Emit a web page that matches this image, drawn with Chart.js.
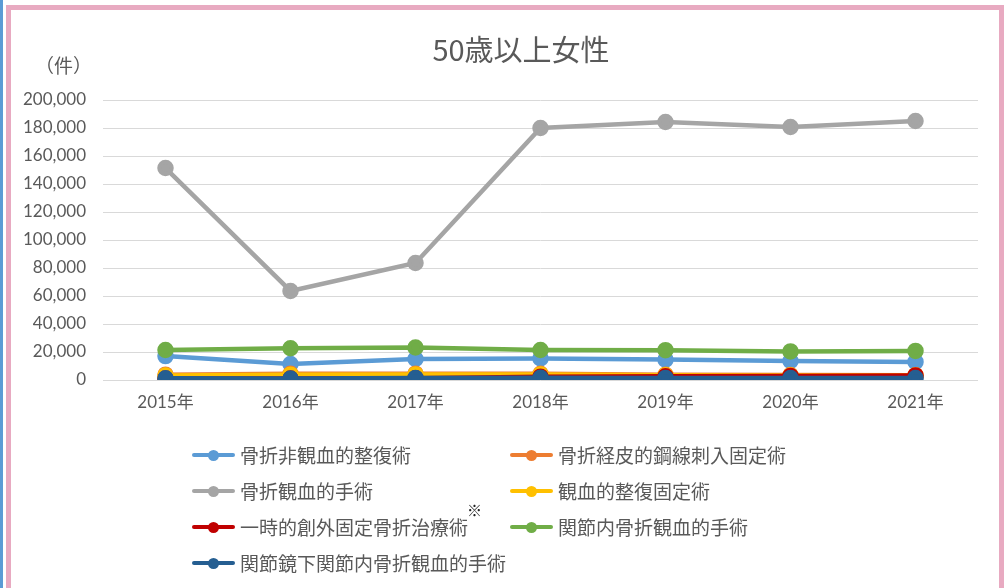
<!DOCTYPE html>
<html>
<head>
<meta charset="utf-8">
<script src="https://cdn.jsdelivr.net/npm/chart.js@4"></script>
<style>
  html, body { margin: 0; padding: 0; background: #fff; }
  body { width: 1007px; height: 588px; position: relative; overflow: hidden;
         font-family: "Noto Sans CJK JP", sans-serif; color: #595959; }
  #wrap { position: absolute; left: 0; top: 0; width: 1007px; height: 588px; }
  .blueStrip { position: absolute; left: 0; top: 0; width: 3px; height: 588px; background: #5B9BD5; }
  .pinkBox { position: absolute; left: 6px; top: 5px; width: 988px; height: 600px;
             border: 5px solid #E8AAC1; border-bottom: none; }
  #title { position: absolute; left: 0; width: 1042px; top: 27px; text-align: center;
           font-size: 29px; color: #595959; }
  #unit { position: absolute; left: 35px; top: 51px; font-size: 19px; }
  #legend { position: absolute; left: 192px; top: 440px; width: 700px; }
  .item { position: absolute; height: 30px; font-size: 19px; white-space: nowrap; line-height: 30px; }
  .item .sym { position: absolute; left: 0; top: 13px; width: 43px; height: 4px; border-radius: 2px; }
  .item .dot { position: absolute; left: 16px; top: 10px; width: 11px; height: 11px; border-radius: 50%; }
  .item .txt { position: absolute; left: 48px; top: 0; }
  sup { font-size: 15px; color: #222; position: relative; top: -8px; left: -1px; vertical-align: top; line-height: 12px; }
</style>
</head>
<body>
<div id="wrap"><canvas id="c" width="1007" height="588"></canvas></div>
<div class="blueStrip"></div>
<div class="pinkBox"></div>
<div id="title">50歳以上女性</div>
<div id="unit">（件）</div>
<div id="legend"></div>
<script>
// 年
const years = ['2015年', '2016年', '2017年', '2018年', '2019年', '2020年', '2021年'];

// 手術名と色
const seriesNames = [
    '骨折非観血的整復術',
    '骨折経皮的鋼線刺入固定術',
    '骨折観血的手術',
    '観血的整復固定術',
    '一時的創外固定骨折治療術',
    '関節内骨折観血的手術',
    '関節鏡下関節内骨折観血的手術'
];
const seriesColors = ['#5B9BD5', '#ED7D31', '#A5A5A5', '#FFC000', '#C00000', '#70AD47', '#255E91'];

// 件数
const hikanketsuSeifuku = [17100, 11400, 15000, 15400, 14600, 13600, 12900];
const keihiKosen = [3800, 4400, 4500, 4400, 3700, 3500, 3400];
const kotsuKanketsu = [151400, 63600, 83600, 180000, 184300, 180700, 185000];
const kanketsuSeifuku = [3200, 3800, 4000, 3900, 3400, 3200, 3300];
const ichijiSogai = [1000, 1000, 1200, 2400, 2600, 2900, 3300];
const kansetsunai = [21400, 22700, 23200, 21400, 21300, 20400, 20800];
const kansetsukyo = [1200, 1100, 1500, 1600, 1500, 1400, 1400];

const seriesData = [hikanketsuSeifuku, keihiKosen, kotsuKanketsu, kanketsuSeifuku, ichijiSogai, kansetsunai, kansetsukyo];

// 目盛り
const yMax = 200000;
const yStep = 20000;

const fontStack = 'Lato, "Noto Sans CJK JP", sans-serif';

const datasets = seriesNames.map((name, i) => ({
    label: name,
    data: seriesData[i],
    borderColor: seriesColors[i],
    backgroundColor: seriesColors[i],
    pointBackgroundColor: seriesColors[i],
    pointBorderColor: seriesColors[i],
    borderWidth: 4.5,
    pointRadius: 6,
    pointHoverRadius: 6,
    tension: 0,
    order: seriesNames.length - i // 後の系列を上に描く
}));

new Chart(document.getElementById('c').getContext('2d'), {
    type: 'line',
    data: { labels: years, datasets: datasets },
    options: {
        responsive: false,
        animation: false,
        layout: { padding: { left: 0, right: 29, top: 100, bottom: 168 } },
        plugins: {
            legend: { display: false },
            tooltip: { enabled: false }
        },
        scales: {
            x: {
                offset: true,
                grid: { display: false, drawTicks: false },
                border: { display: false },
                ticks: { color: '#595959', font: { family: fontStack, size: 17 }, padding: 12 },
                afterFit: (s) => { s.height = 40; }
            },
            y: {
                min: 0,
                max: yMax,
                ticks: {
                    stepSize: yStep,
                    color: '#595959',
                    padding: 17,
                    font: { family: fontStack, size: 17 },
                    callback: (v) => v.toLocaleString('en-US')
                },
                grid: { color: '#D9D9D9', lineWidth: 1, drawTicks: false },
                border: { display: false },
                afterFit: (s) => { s.width = 103; }
            }
        }
    }
});

// 凡例（2列）
const legend = document.getElementById('legend');
seriesNames.forEach((name, i) => {
    const col = i % 2, row = Math.floor(i / 2);
    const el = document.createElement('div');
    el.className = 'item';
    el.style.left = (col * 318) + 'px';
    el.style.top = (row * 36) + 'px';
    const note = i === 4 ? '<sup>※</sup>' : '';
    el.innerHTML = '<span class="sym" style="background:' + seriesColors[i] + '"></span>' +
        '<span class="dot" style="background:' + seriesColors[i] + '"></span>' +
        '<span class="txt">' + name + note + '</span>';
    legend.appendChild(el);
});
</script>
</body>
</html>
